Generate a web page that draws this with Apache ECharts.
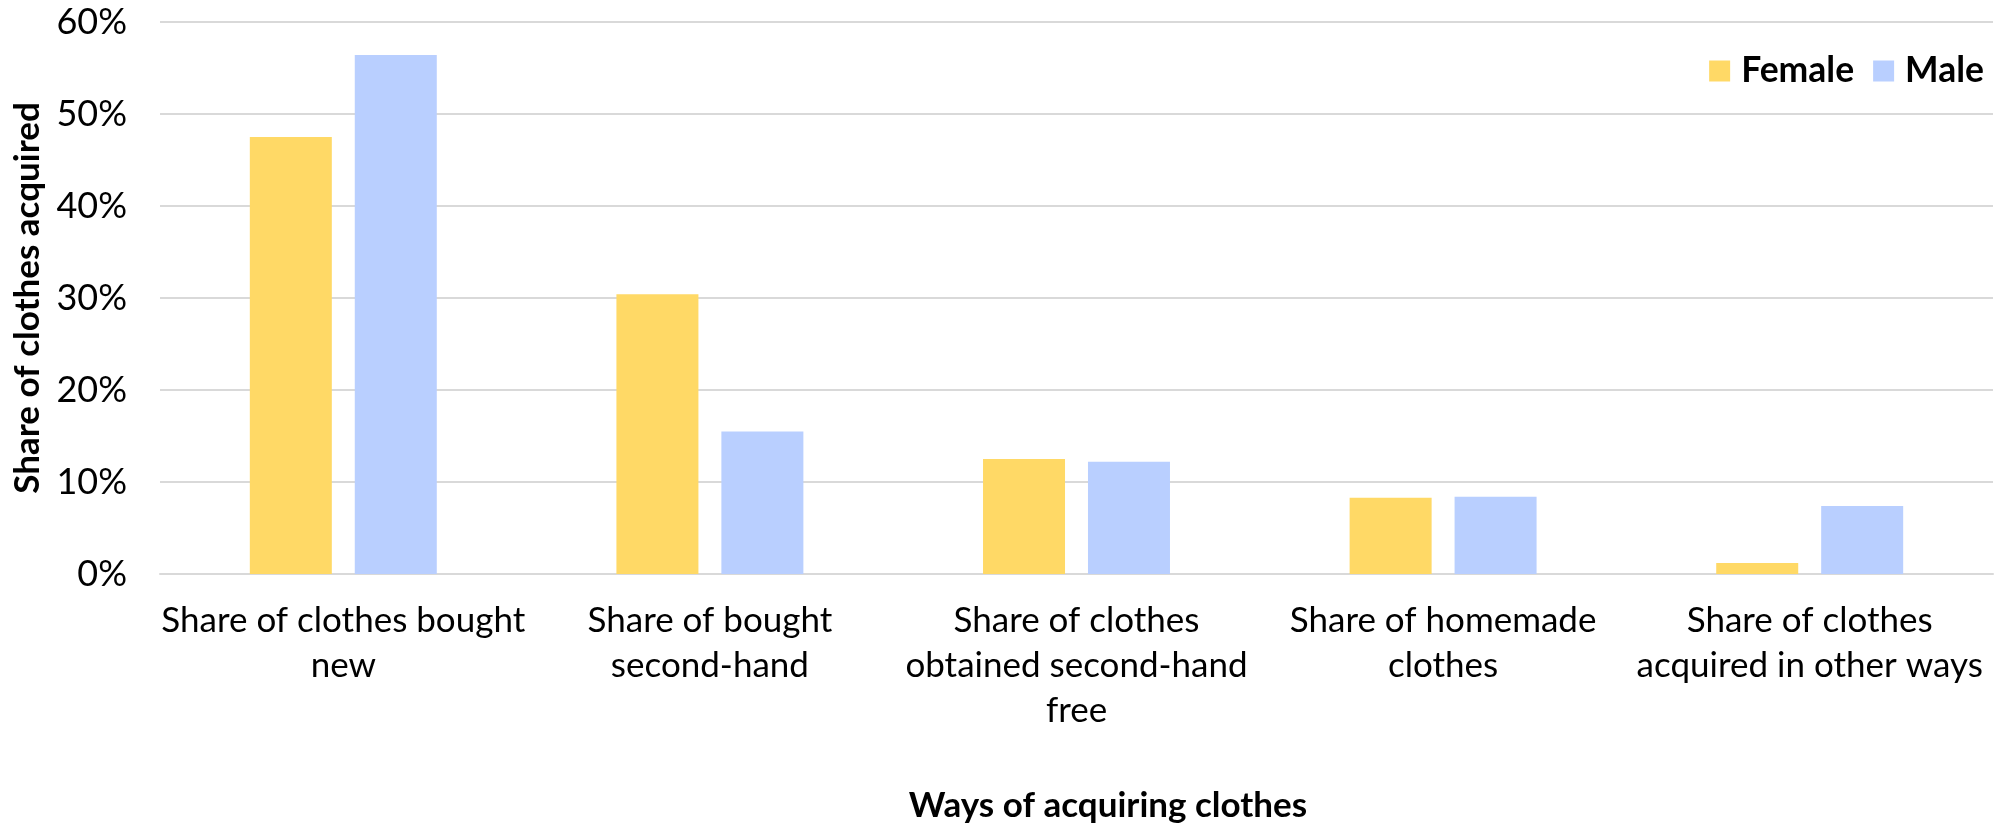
<!DOCTYPE html>
<html>
<head>
<meta charset="utf-8">
<script src="https://cdn.jsdelivr.net/npm/echarts@6/dist/echarts.min.js"></script>
<style>
  html, body { margin: 0; padding: 0; background: #ffffff; }
  #chart { width: 1996px; height: 824px; }
</style>
</head>
<body>
<div id="chart"></div>
<script>
// Ways of acquiring clothes, by gender (share of clothes acquired, %)
const categories = [
  'Share of clothes bought\nnew',
  'Share of bought\nsecond-hand',
  'Share of clothes\nobtained second-hand\nfree',
  'Share of homemade\nclothes',
  'Share of clothes\nacquired in other ways'
];
const female = [47.5, 30.4, 12.5, 8.3, 1.2];
const male = [56.4, 15.5, 12.2, 8.4, 7.4];
const yTicks = [0, 10, 20, 30, 40, 50, 60];

const FONT = 'Lato, "Liberation Sans", sans-serif';

const chart = echarts.init(document.getElementById('chart'), null, { renderer: 'canvas' });
chart.setOption({
  animation: false,
  backgroundColor: '#ffffff',
  textStyle: { fontFamily: FONT, color: '#000000' },
  grid: { left: 160, right: 3, top: 22, bottom: 250, containLabel: false },
  legend: {
    right: 7,
    top: 48,
    itemWidth: 21,
    itemHeight: 21,
    itemGap: 19,
    icon: 'rect',
    textStyle: { fontFamily: FONT, fontSize: 35.5, fontWeight: 'bold', color: '#000000', padding: [0, 0, 0, 6] },
    data: ['Female', 'Male']
  },
  xAxis: {
    type: 'category',
    data: categories,
    axisLine: { show: true, lineStyle: { color: '#D9D9D9', width: 2 } },
    axisTick: { show: false },
    axisLabel: {
      interval: 0,
      margin: 24,
      fontFamily: FONT,
      fontSize: 35,
      lineHeight: 45,
      color: '#000000',
      align: 'center'
    }
  },
  yAxis: {
    type: 'value',
    min: yTicks[0],
    max: yTicks[yTicks.length - 1],
    interval: 10,
    name: 'Share of clothes acquired',
    nameLocation: 'middle',
    nameGap: 102,
    nameRotate: 90,
    nameTextStyle: { fontFamily: FONT, fontSize: 35, fontWeight: 'bold', color: '#000000' },
    axisLine: { show: false },
    axisTick: { show: false },
    axisLabel: {
      margin: 33,
      fontFamily: FONT,
      fontSize: 36,
      color: '#000000',
      formatter: v => v + '%'
    },
    splitLine: { show: true, lineStyle: { color: '#D9D9D9', width: 2 } }
  },
  series: [
    {
      name: 'Female',
      type: 'bar',
      data: female,
      barWidth: 82,
      barGap: '28%',
      itemStyle: { color: '#FFD966' }
    },
    {
      name: 'Male',
      type: 'bar',
      data: male,
      barWidth: 82,
      barGap: '28%',
      itemStyle: { color: '#B9CFFF' }
    }
  ],
  graphic: [
    {
      type: 'text',
      x: 1108,
      y: 806,
      style: {
        text: 'Ways of acquiring clothes',
        fontFamily: FONT,
        fontSize: 35,
        fontWeight: 'bold',
        fill: '#000000',
        align: 'center',
        verticalAlign: 'middle'
      }
    }
  ]
});
</script>
</body>
</html>
